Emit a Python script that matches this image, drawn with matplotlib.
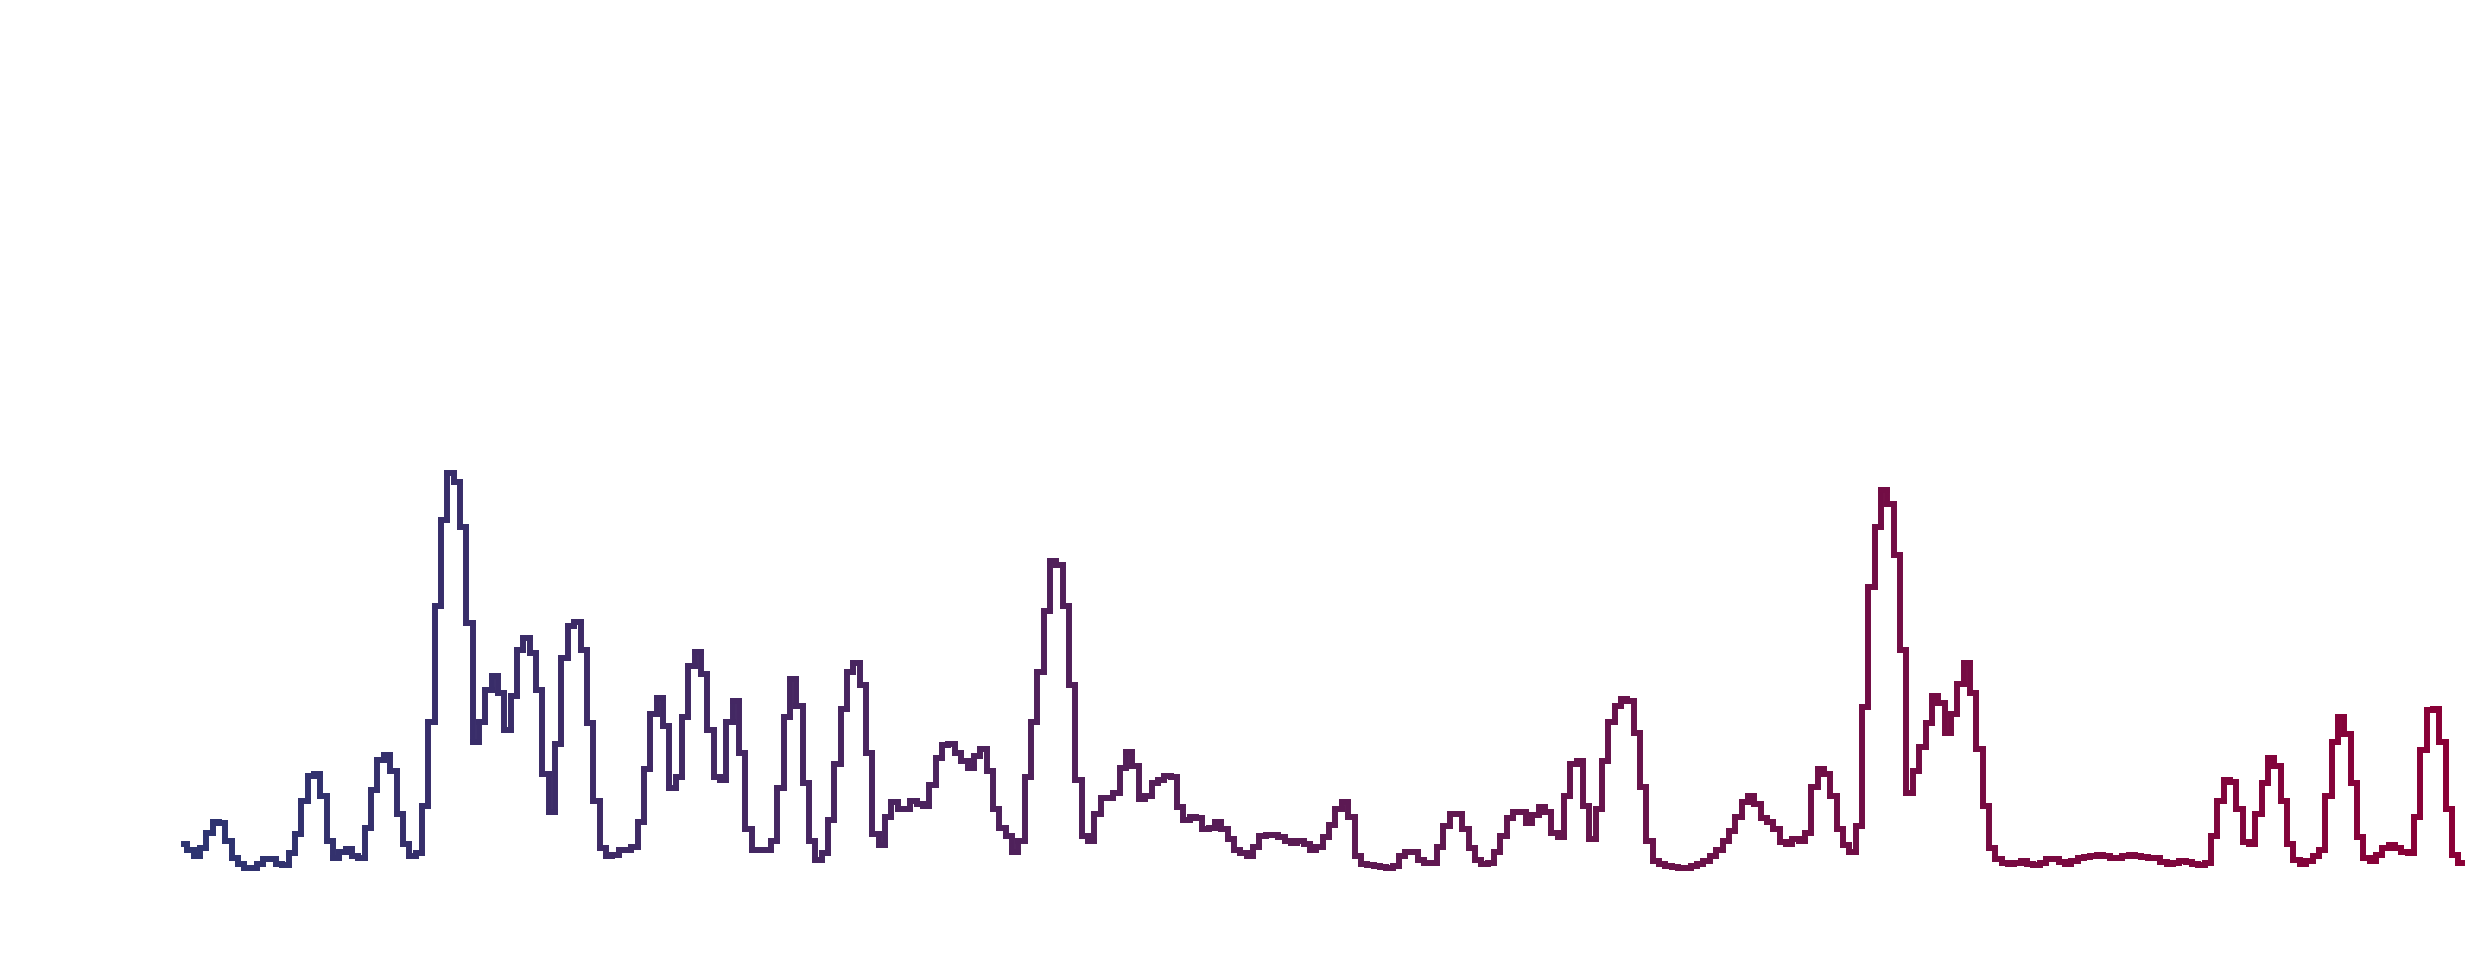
import numpy as np
import matplotlib.pyplot as plt
from matplotlib.collections import LineCollection
from matplotlib.colors import LinearSegmentedColormap

# signal level per step (left to right)
values = [
    28, 24, 20.5, 25, 35, 42, 41, 30, 19, 15,
    13, 12.5, 15, 18.5, 18.5, 15.5, 14.6, 22, 34, 55,
    71, 72, 58, 30, 19, 23, 24.5, 20, 19, 38,
    62, 81, 84, 74, 47, 28, 20, 22, 52, 105,
    178, 232, 262, 256, 228, 167, 92, 105, 125, 134,
    123, 100, 121, 150, 158, 148, 125, 72, 48, 91,
    145, 165, 168, 150, 104, 55, 25, 20, 21, 24,
    24, 26, 42, 75, 110, 120, 102, 63, 70, 108,
    140, 149, 135, 100, 70, 68, 105, 118, 85, 37,
    24, 24, 24, 30, 63, 108, 132, 115, 66, 30,
    18, 22, 43, 78, 113, 136, 142, 128, 85, 34,
    27, 45, 54, 50, 50, 55, 53, 52, 65, 82,
    90, 91, 85, 80, 76, 83, 88, 74, 50, 38,
    33, 23, 30, 70, 105, 136, 175, 206, 204, 178,
    128, 68, 33, 30, 47, 57, 57, 60, 76, 86,
    77, 56, 58, 66, 68, 71, 70, 51, 43, 45,
    44, 37, 38, 42, 37, 31, 24, 22, 20, 26,
    33, 33.5, 33.5, 32.5, 30, 28.5, 30, 28, 24, 26,
    32, 40, 50, 54, 45, 20, 15.5, 14.5, 14, 13.5,
    13, 14, 20, 23, 23, 18, 16, 16, 26, 39,
    47, 47, 37, 25, 18, 15, 16, 23, 33, 44,
    48, 48, 41, 46, 51, 48, 35, 32, 58, 78,
    80, 52, 31, 50, 80, 105, 115, 119, 118, 98,
    64, 30, 17, 15, 14, 13.5, 13, 13, 14, 15,
    17, 20, 24, 30, 36, 45, 54, 58, 53, 44,
    42, 37, 29, 28, 31, 30, 35, 64, 75, 72,
    58, 37, 27, 23, 39, 114, 190, 228, 251, 242,
    210, 150, 60, 74, 89, 104, 121, 117, 98, 110,
    129, 142, 123, 88, 52, 25, 18.5, 16, 15, 16,
    17, 15.5, 14.6, 16, 18.5, 18.5, 16.5, 15, 17, 19,
    19.5, 20.5, 21, 20, 19, 19, 20, 21, 20.5, 19.5,
    19, 19, 16.5, 15, 16, 17, 16.5, 15, 14.6, 16,
    33, 55, 68, 67, 50, 29, 28, 47, 66, 82,
    77, 55, 28, 18, 15, 17, 20, 24, 58, 92,
    108, 97, 66, 32, 19, 17, 21, 25, 27, 25,
    23, 22, 45, 87, 112, 113, 92, 50, 21, 16,
]

start_color = '#2d3471'
end_color = '#8a0036'

n = len(values)

# build a mid-step path from the values
pts = [(0, values[0])]
for i in range(n - 1):
    pts.append((i + 0.5, values[i]))
    pts.append((i + 0.5, values[i + 1]))
pts.append((n - 1, values[-1]))
pts = np.array(pts)

segs = []
mids = []
for a, b in zip(pts[:-1], pts[1:]):
    if np.allclose(a, b):
        continue
    segs.append([a, b])
    mids.append((a[0] + b[0]) / 2)
mids = np.array(mids) / (n - 1)

cmap = LinearSegmentedColormap.from_list('grad', [start_color, end_color])

fig = plt.figure(figsize=(24.87, 9.69), dpi=100)
ax = fig.add_axes([0, 0, 1, 1])
lc = LineCollection(segs, colors=cmap(mids), linewidths=4.3, capstyle='projecting')
ax.add_collection(lc)

ax.set_xlim(-29, 363)
ax.set_ylim(-51, 560)
ax.axis('off')

fig.savefig('out.png', dpi=100, facecolor='white')
